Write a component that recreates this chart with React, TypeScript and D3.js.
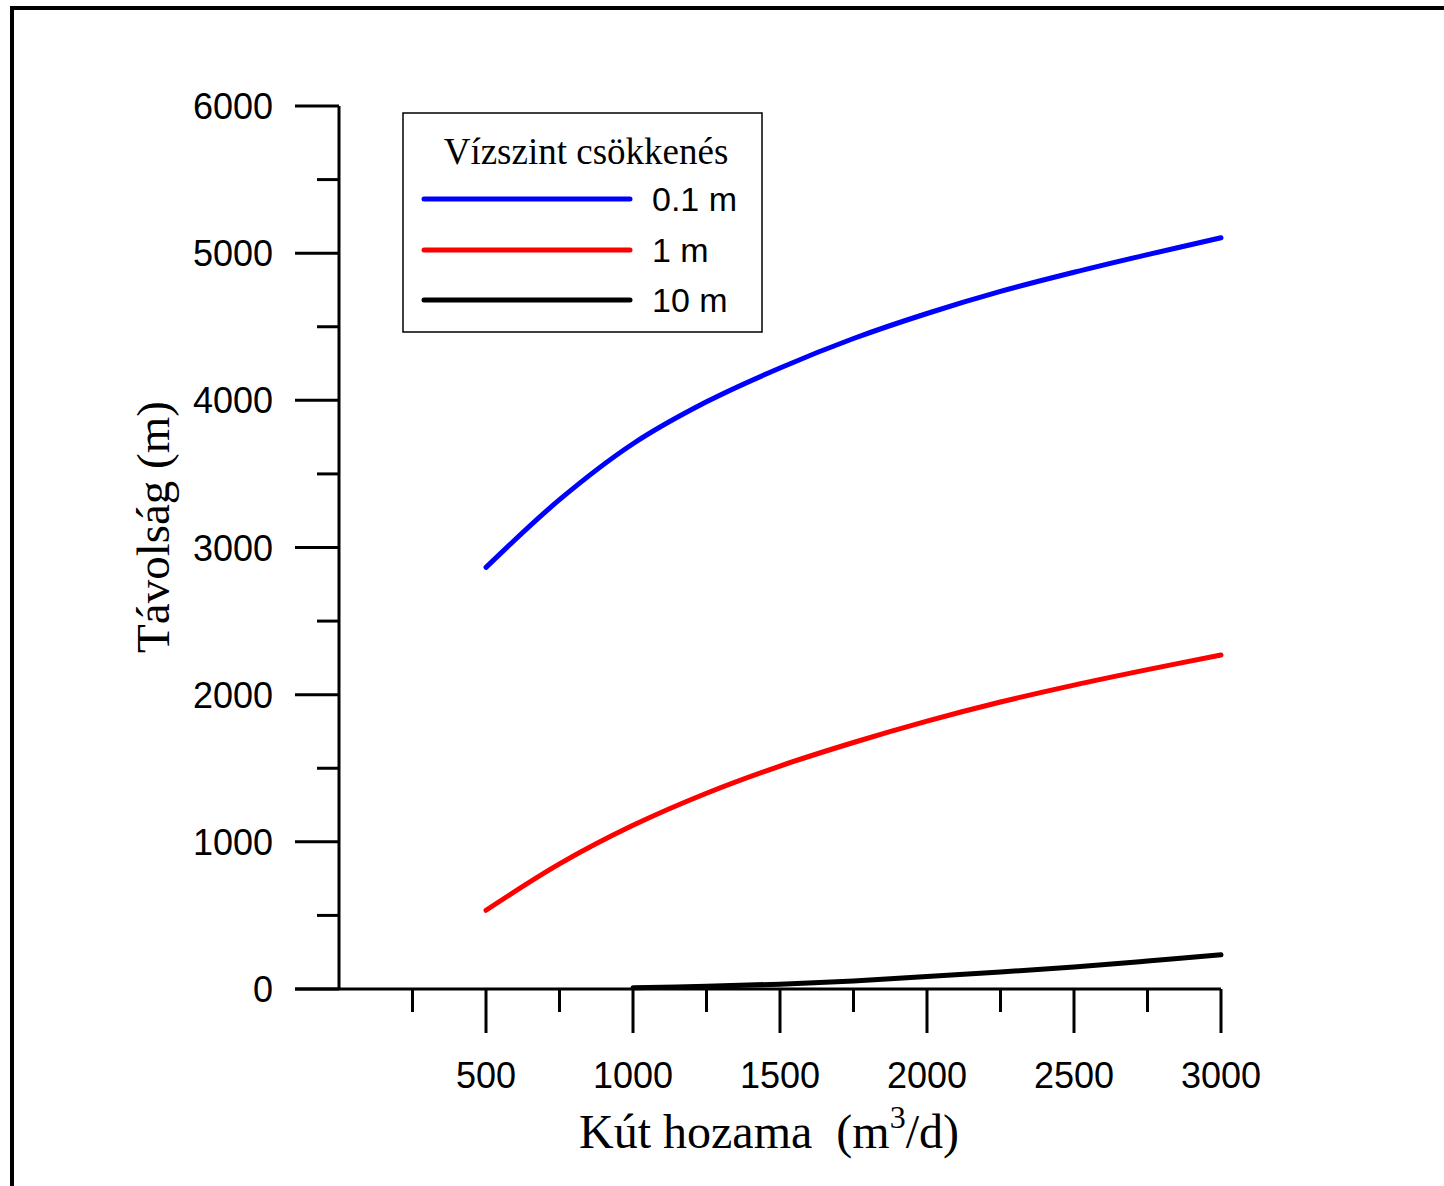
import React from "react";
import * as d3 from "d3";

const flows = [500, 750, 1000, 1250, 1500, 1750, 2000, 2250, 2500, 2750, 3000];
const dist01 = [2865, 3325, 3705, 3990, 4220, 4420, 4590, 4740, 4870, 4990, 5105];
const dist1 = [535, 850, 1112, 1330, 1515, 1675, 1820, 1950, 2065, 2170, 2270];
const flows10 = [1000, 1250, 1500, 1750, 2000, 2250, 2500, 2750, 3000];
const dist10 = [8, 18, 33, 55, 85, 115, 150, 190, 232];

const xMajor = [500, 1000, 1500, 2000, 2500, 3000];
const xMinor = [250, 750, 1250, 1750, 2250, 2750];
const yMajor = [0, 1000, 2000, 3000, 4000, 5000, 6000];
const yMinor = [500, 1500, 2500, 3500, 4500, 5500];

const legendTitle = "Vízszint csökkenés";
const seriesNames = ["0.1 m", "1 m", "10 m"];
const seriesColors = ["#0000ff", "#ff0000", "#000000"];

export default function App() {
  const x = d3.scaleLinear().domain([0, 3000]).range([339, 1221]);
  const y = d3.scaleLinear().domain([0, 6000]).range([989, 106]);
  const line = d3
    .line<[number, number]>()
    .x((d) => x(d[0]))
    .y((d) => y(d[1]))
    .curve(d3.curveCatmullRom.alpha(0.5));

  const series: [number, number][][] = [
    flows.map((f, i) => [f, dist01[i]] as [number, number]),
    flows.map((f, i) => [f, dist1[i]] as [number, number]),
    flows10.map((f, i) => [f, dist10[i]] as [number, number]),
  ];

  const sans = "'Liberation Sans', Arial, sans-serif";
  const serif = "'Liberation Serif', 'Times New Roman', serif";
  const legendY = [199, 250, 300];

  return (
    <svg
      width={1444}
      height={1186}
      style={{ position: "absolute", left: 0, top: 0, background: "#fff" }}
    >
      <rect x={0} y={0} width={1444} height={1186} fill="#fff" />
      <rect x={12} y={8} width={1500} height={1300} fill="none" stroke="#000" strokeWidth={4} />

      {/* axes */}
      <line x1={x(0)} x2={x(0)} y1={y(6000)} y2={y(0)} stroke="#000" strokeWidth={3} />
      <line x1={295} x2={x(3000)} y1={y(0)} y2={y(0)} stroke="#000" strokeWidth={3} />
      {yMajor.map((v) => (
        <g key={"ym" + v}>
          <line x1={295} x2={x(0)} y1={y(v)} y2={y(v)} stroke="#000" strokeWidth={3} />
          <text
            x={273}
            y={y(v) + 13}
            textAnchor="end"
            fontFamily={sans}
            fontSize={36}
            fill="#000"
          >
            {v}
          </text>
        </g>
      ))}
      {yMinor.map((v) => (
        <line key={"yn" + v} x1={317} x2={x(0)} y1={y(v)} y2={y(v)} stroke="#000" strokeWidth={3} />
      ))}
      {xMajor.map((v) => (
        <g key={"xm" + v}>
          <line x1={x(v)} x2={x(v)} y1={y(0)} y2={1033} stroke="#000" strokeWidth={3} />
          <text
            x={x(v)}
            y={1088}
            textAnchor="middle"
            fontFamily={sans}
            fontSize={36}
            fill="#000"
          >
            {v}
          </text>
        </g>
      ))}
      {xMinor.map((v) => (
        <line key={"xn" + v} x1={x(v)} x2={x(v)} y1={y(0)} y2={1012} stroke="#000" strokeWidth={3} />
      ))}

      {/* series */}
      {series.map((s, i) => (
        <path
          key={"s" + i}
          d={line(s) || ""}
          fill="none"
          stroke={seriesColors[i]}
          strokeWidth={5}
          strokeLinecap="round"
          strokeLinejoin="round"
        />
      ))}

      {/* axis titles */}
      <text
        transform="translate(169,527) rotate(-90)"
        textAnchor="middle"
        fontFamily={serif}
        fontSize={47}
        fill="#000"
      >
        Távolság (m)
      </text>
      <text x={769} y={1148} textAnchor="middle" fontFamily={serif} fontSize={48} fill="#000">
        Kút hozama{"\u00a0\u00a0"}(m
        <tspan fontSize={32} dy={-20}>3</tspan>
        <tspan dy={20}>/d)</tspan>
      </text>

      {/* legend */}
      <rect x={403} y={113} width={359} height={219} fill="#fff" stroke="#000" strokeWidth={1.5} />
      <text x={586} y={164} textAnchor="middle" fontFamily={serif} fontSize={37} fill="#000">
        {legendTitle}
      </text>
      {seriesNames.map((n, i) => (
        <g key={"lg" + i}>
          <line
            x1={424}
            x2={630}
            y1={legendY[i]}
            y2={legendY[i]}
            stroke={seriesColors[i]}
            strokeWidth={5}
            strokeLinecap="round"
          />
          <text x={652} y={legendY[i] + 12} fontFamily={sans} fontSize={34} fill="#000">
            {n}
          </text>
        </g>
      ))}
    </svg>
  );
}
